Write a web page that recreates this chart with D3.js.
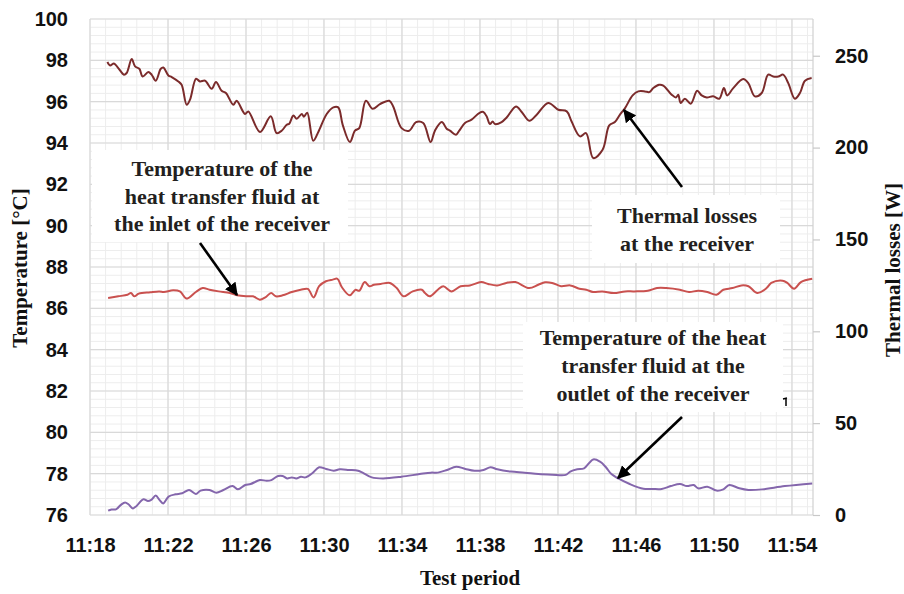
<!DOCTYPE html>
<html><head><meta charset="utf-8">
<script src="https://cdn.jsdelivr.net/npm/d3@7"></script>
<style>body{margin:0;background:#fff}svg{display:block}</style>
</head><body>
<svg id="c" width="904" height="594"></svg>
<script>
// ---- data (time in minutes after 11:00) ----
const lossTime = [18.89,19.03,19.23,19.45,19.74,19.88,20.14,20.31,20.53,20.70,
20.99,21.16,21.37,21.63,21.76,22.02,22.19,22.53,22.70,22.96,
23.13,23.44,23.64,23.90,24.24,24.46,24.75,24.97,25.35,25.52,
25.95,26.12,26.72,27.27,27.57,27.83,28.09,28.22,28.43,28.60,
28.86,28.97,29.14,29.45,29.71,30.14,30.48,30.73,30.96,31.33,
31.59,31.81,32.15,32.50,32.87,33.35,33.55,33.98,34.37,34.72,
35.09,35.47,35.69,36.04,36.29,36.46,36.77,36.94,37.23,37.57,
37.96,38.17,38.34,38.51,38.65,38.77,39.11,39.37,39.85,40.14,
40.53,40.91,41.50,42.02,42.45,42.70,43.13,43.44,43.81,44.29,
44.63,44.92,45.18,45.44,45.83,46.12,46.46,46.68,46.89,47.19,
47.40,47.83,48.05,48.17,48.29,48.51,48.81,49.14,49.37,49.63,
49.96,50.27,50.51,50.68,50.99,51.50,51.76,52.10,52.45,52.78,
53.04,53.30,53.55,53.81,54.15,54.41,54.67,55.01];
const lossW = [246.6,244.7,245.8,243.3,239.7,240.6,248.2,244.2,242.9,238.7,
241.1,239.7,236.4,242.9,243.6,239.3,238.4,236.0,234.2,223.3,
226.1,237.5,236.0,236.4,232.0,235.7,230.9,229.7,223.3,225.5,
218.3,219.7,208.5,217.0,207.9,209.2,212.4,213.0,217.5,215.7,
218.3,216.8,219.0,203.7,208.5,218.3,221.9,221.9,212.4,203.0,
209.2,210.6,225.5,221.1,223.7,225.5,222.4,210.6,209.2,213.9,
213.4,203.0,209.2,213.9,210.3,209.2,207.0,209.2,213.4,215.2,
218.8,219.4,217.0,212.8,214.2,212.8,213.9,216.4,222.4,219.4,
214.6,217.9,224.3,220.6,219.7,214.2,206.1,207.9,194.3,198.8,
212.1,213.9,217.9,221.5,228.4,230.6,230.6,230.2,232.4,234.2,
233.8,228.8,227.3,228.8,224.3,226.6,223.9,230.9,228.4,227.3,
227.9,226.6,232.4,228.4,232.4,237.3,235.1,227.9,229.7,239.7,
238.7,238.7,239.7,235.1,226.6,229.7,236.4,237.9];

const inletTime = [18.93,19.45,19.92,20.10,20.27,20.50,21.09,21.55,21.79,22.26,
22.61,22.96,23.43,23.78,24.13,24.60,25.18,25.54,26.00,26.36,
26.71,26.99,27.29,27.53,27.88,28.35,28.81,29.17,29.47,29.75,
30.10,30.45,30.69,30.92,31.32,31.62,31.81,32.09,32.33,32.56,
32.91,33.38,33.73,34.08,34.55,35.02,35.18,35.42,35.84,36.12,
36.54,37.01,37.48,38.07,38.42,38.88,39.35,39.82,40.52,40.99,
41.34,41.70,42.16,42.63,43.10,43.45,43.80,44.27,44.86,45.44,
45.91,46.61,47.08,47.55,48.25,48.72,49.19,49.66,50.13,50.48,
50.95,51.41,51.77,52.23,52.70,52.94,53.52,53.76,54.11,54.46,
55.04];
const inletTemp = [86.50,86.58,86.66,86.74,86.58,86.71,86.78,86.82,86.79,86.87,
86.82,86.47,86.79,86.98,86.90,86.82,86.74,86.63,86.58,86.58,
86.42,86.53,86.74,86.58,86.63,86.79,86.90,86.94,86.53,87.07,
87.31,87.39,87.43,87.02,86.63,86.90,86.85,87.27,87.07,87.14,
87.18,87.23,86.98,86.58,86.82,86.90,86.74,86.58,86.90,87.07,
86.82,87.07,87.11,87.27,87.18,87.11,87.23,87.27,86.98,87.14,
87.26,87.23,87.07,87.11,86.95,86.90,86.79,86.82,86.74,86.82,
86.82,86.85,86.98,86.98,86.90,86.79,86.85,86.79,86.66,86.90,
86.98,87.11,87.07,86.74,86.98,87.23,87.34,87.23,86.95,87.27,
87.43];

const outletTime = [18.93,19.10,19.33,19.57,19.80,19.97,20.20,20.39,20.74,20.97,
21.14,21.37,21.56,21.75,22.03,22.38,22.73,23.08,23.43,23.67,
24.13,24.48,24.84,25.31,25.59,25.96,26.24,26.71,27.06,27.30,
27.65,27.88,28.11,28.35,28.58,28.82,29.05,29.40,29.75,30.11,
30.50,30.81,31.28,31.75,31.98,32.45,33.03,33.97,34.91,35.49,
35.84,36.31,36.78,37.25,37.72,38.18,38.54,38.89,39.59,40.29,
41.00,41.70,42.40,42.63,42.99,43.34,43.81,44.16,44.46,44.74,
45.09,45.68,46.38,46.85,47.32,47.79,48.26,48.61,48.96,49.19,
49.66,50.13,50.48,50.79,51.30,51.77,52.47,53.64,55.04];
const outletTemp = [76.21,76.27,76.27,76.48,76.61,76.52,76.32,76.44,76.76,76.68,
76.73,76.94,76.73,76.56,76.89,77.00,77.05,77.21,77.02,77.18,
77.21,77.08,77.21,77.40,77.24,77.45,77.50,77.69,77.66,77.69,
77.89,77.89,77.77,77.82,77.77,77.85,77.82,78.02,78.31,78.23,
78.14,78.21,78.18,78.14,78.05,77.82,77.77,77.85,77.98,78.05,
78.05,78.18,78.34,78.23,78.14,78.18,78.31,78.21,78.10,78.05,
77.98,77.95,77.94,78.10,78.21,78.26,78.69,78.58,78.31,77.98,
77.77,77.50,77.27,77.26,77.26,77.40,77.50,77.40,77.45,77.29,
77.37,77.18,77.24,77.45,77.29,77.21,77.24,77.40,77.53];

const xTickMinutes = [18,22,26,30,34,38,42,46,50,54];
const xTickLabels = ["11:18","11:22","11:26","11:30","11:34","11:38","11:42","11:46","11:50","11:54"];
const leftTicks = [76,78,80,82,84,86,88,90,92,94,96,98,100];
const rightTicks = [0,50,100,150,200,250];

const annInlet = ["Temperature of the","heat transfer fluid at","the inlet of the receiver"];
const annLoss = ["Thermal losses","at the receiver"];
const annOutlet = ["Temperature of the heat","transfer fluid at the","outlet of the receiver"];

// ---- layout ----
const L = 90, R = 813, T = 19, B = 515;
const svg = d3.select("#c");
const x = d3.scaleLinear().domain([18, 55.08]).range([L, R]);
const yL = d3.scaleLinear().domain([76, 100]).range([B, T]);
const yR = d3.scaleLinear().domain([0, 270]).range([B, T]);

// grid
const g = svg.append("g");
const minorX = d3.range(18, 55.08, 0.8);
const minorY = d3.range(76, 100.01, 0.4);
g.selectAll(".mx").data(minorX).join("line")
  .attr("x1", d => x(d)).attr("x2", d => x(d)).attr("y1", T).attr("y2", B)
  .attr("stroke", "#ededed").attr("stroke-width", 1);
g.selectAll(".my").data(minorY).join("line")
  .attr("x1", L).attr("x2", R).attr("y1", d => yL(d)).attr("y2", d => yL(d))
  .attr("stroke", "#ededed").attr("stroke-width", 1);
g.selectAll(".Mx").data(xTickMinutes).join("line")
  .attr("x1", d => x(d)).attr("x2", d => x(d)).attr("y1", T).attr("y2", B)
  .attr("stroke", "#d9d9d9").attr("stroke-width", 1.2);
g.selectAll(".My").data(leftTicks).join("line")
  .attr("x1", L).attr("x2", R).attr("y1", d => yL(d)).attr("y2", d => yL(d))
  .attr("stroke", "#d9d9d9").attr("stroke-width", 1.2);
g.append("line").attr("x1", R).attr("x2", R).attr("y1", T).attr("y2", B)
  .attr("stroke", "#d0d0d0").attr("stroke-width", 1.2);

// axes
const tickFont = "'Liberation Sans', Arial, sans-serif";
const axL = svg.append("g").attr("transform", `translate(${L},0)`)
  .call(d3.axisLeft(yL).tickValues(leftTicks).tickSize(0).tickPadding(22));
const axR = svg.append("g").attr("transform", `translate(${R},0)`)
  .call(d3.axisRight(yR).tickValues(rightTicks).tickSize(7).tickPadding(15));
const axB = svg.append("g").attr("transform", `translate(0,${B})`)
  .call(d3.axisBottom(x).tickValues(xTickMinutes).tickSize(0).tickPadding(23)
    .tickFormat((d, i) => xTickLabels[i]));
[axL, axR, axB].forEach(a => {
  a.select(".domain").remove();
  a.selectAll("text").attr("font-family", tickFont).attr("font-weight", "bold")
    .attr("font-size", 20).attr("fill", "#111");
  a.selectAll(".tick line").attr("stroke", "#c8c8c8").attr("stroke-width", 1.2);
});

// lines
const mk = (ts, vs) => d3.zip(ts, vs);
const lineL = d3.line().x(d => x(d[0])).y(d => yL(d[1])).curve(d3.curveCatmullRom.alpha(0.5));
const lineR = d3.line().x(d => x(d[0])).y(d => yR(d[1])).curve(d3.curveCatmullRom.alpha(0.5));
svg.append("path").datum(mk(lossTime, lossW)).attr("d", lineR)
  .attr("fill", "none").attr("stroke", "#7b2b2b").attr("stroke-width", 2);
svg.append("path").datum(mk(inletTime, inletTemp)).attr("d", lineL)
  .attr("fill", "none").attr("stroke", "#c9514f").attr("stroke-width", 2);
svg.append("path").datum(mk(outletTime, outletTemp)).attr("d", lineL)
  .attr("fill", "none").attr("stroke", "#8466ac").attr("stroke-width", 2);

// annotations
const serif = "'Liberation Serif', 'Times New Roman', serif";
function box(x0, y0, x1, y1, cx, lines, base, lh) {
  svg.append("rect").attr("x", x0).attr("y", y0).attr("width", x1 - x0).attr("height", y1 - y0)
    .attr("fill", "#fff");
  svg.append("g").selectAll("text").data(lines).join("text")
    .attr("x", cx).attr("y", (d, i) => base + i * lh).attr("text-anchor", "middle")
    .attr("font-family", serif).attr("font-weight", "bold").attr("font-size", 22)
    .attr("fill", "#231f20").text(d => d);
}
box(92, 150, 348, 242, 222, annInlet, 176, 27.5);
box(592, 195, 780, 263, 687, annLoss, 223, 27.5);
box(523, 322, 783, 412, 653, annOutlet, 345, 28);

svg.append("defs").append("marker").attr("id", "ah")
  .attr("viewBox", "0 0 10 10").attr("refX", 9).attr("refY", 5)
  .attr("markerWidth", 5).attr("markerHeight", 5).attr("orient", "auto")
  .append("path").attr("d", "M0,0L10,5L0,10Z").attr("fill", "#000");
const arrows = [[200, 243, 237, 295], [682, 187, 624, 110], [682, 417, 618, 478]];
svg.selectAll(".arr").data(arrows).join("line")
  .attr("x1", d => d[0]).attr("y1", d => d[1]).attr("x2", d => d[2]).attr("y2", d => d[3])
  .attr("stroke", "#000").attr("stroke-width", 2.6).attr("marker-end", "url(#ah)");
// small stray mark
svg.append("path").attr("d", "M783,399 L787,398 M786,398 L786,406")
  .attr("stroke", "#000").attr("stroke-width", 1.5).attr("fill", "none");

// axis titles
const titleStyle = s => s.attr("font-family", serif).attr("font-weight", "bold")
  .attr("font-size", 21).attr("fill", "#111").attr("text-anchor", "middle");
svg.append("text").attr("transform", "translate(27,268) rotate(-90)")
  .call(titleStyle).text("Temperature [°C]");
svg.append("text").attr("transform", "translate(900,270) rotate(-90)")
  .call(titleStyle).text("Thermal losses [W]");
svg.append("text").attr("x", 470).attr("y", 585).call(titleStyle).text("Test period");
</script>
</body></html>
